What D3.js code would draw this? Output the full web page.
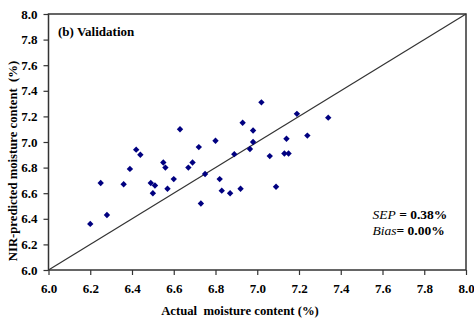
<!DOCTYPE html>
<html lang="en">
<head>
    <meta charset="UTF-8">
    <title>Validation</title>
    <script src="https://d3js.org/d3.v7.min.js"></script>
    <style>
        body { margin: 0; background: #fff; }
        svg text { font-family: 'Liberation Serif', 'Times New Roman', serif; fill: #000; }
        .tick text { font-size: 13px; font-weight: bold; }
        .axis-title { font-size: 12.7px; font-weight: bold; white-space: pre; }
    </style>
</head>
<body>
    <div id="chart"></div>
    <script>
        // Actual vs predicted moisture (%)
        const actual = [6.20, 6.25, 6.28, 6.36, 6.39, 6.42, 6.44, 6.49, 6.50, 6.51,
                        6.55, 6.56, 6.57, 6.60, 6.63, 6.67, 6.69, 6.72, 6.73, 6.75,
                        6.80, 6.82, 6.83, 6.87, 6.89, 6.92, 6.93, 6.965, 6.98, 6.98,
                        7.02, 7.06, 7.09, 7.13, 7.15, 7.14, 7.19, 7.24, 7.34];
        const predicted = [6.36, 6.68, 6.43, 6.67, 6.79, 6.94, 6.90, 6.68, 6.60, 6.66,
                           6.84, 6.80, 6.635, 6.71, 7.10, 6.80, 6.84, 6.96, 6.52, 6.75,
                           7.01, 6.71, 6.62, 6.60, 6.905, 6.635, 7.15, 6.945, 7.00, 7.09,
                           7.31, 6.89, 6.65, 6.91, 6.91, 7.025, 7.22, 7.05, 7.19];
        const ticks = [6.0, 6.2, 6.4, 6.6, 6.8, 7.0, 7.2, 7.4, 7.6, 7.8, 8.0];

        const W = 474, H = 324;
        const margin = { top: 14, right: 8, bottom: 54, left: 48.5 };
        const width = W - margin.left - margin.right;
        const height = H - margin.top - margin.bottom;

        const svg = d3.select("#chart").append("svg")
            .attr("width", W)
            .attr("height", H);

        const g = svg.append("g")
            .attr("transform", `translate(${margin.left},${margin.top})`);

        const x = d3.scaleLinear().domain([6, 8]).range([0, width]);
        const y = d3.scaleLinear().domain([6, 8]).range([height, 0]);

        // axes
        const xAxis = g.append("g")
            .attr("transform", `translate(0,${height})`)
            .call(d3.axisBottom(x).tickValues(ticks).tickFormat(d3.format(".1f")).tickSize(5).tickPadding(9));
        const yAxis = g.append("g")
            .call(d3.axisLeft(y).tickValues(ticks).tickFormat(d3.format(".1f")).tickSize(5).tickPadding(6));
        [xAxis, yAxis].forEach(a => {
            a.attr("font-family", null).attr("font-size", null);
            a.select(".domain").remove();
            a.selectAll(".tick line").attr("stroke", "#333").attr("stroke-width", 1.2);
        });

        // frame
        g.append("rect")
            .attr("width", width)
            .attr("height", height)
            .attr("fill", "none")
            .attr("stroke", "#333")
            .attr("stroke-width", 1.5);

        // 1:1 line
        g.append("line")
            .attr("x1", x(6)).attr("y1", y(6))
            .attr("x2", x(8)).attr("y2", y(8))
            .attr("stroke", "#333")
            .attr("stroke-width", 1.2);

        // points
        const pts = actual.map((a, i) => ({ a: a, p: predicted[i] }));
        g.selectAll(".pt").data(pts).enter()
            .append("path")
            .attr("class", "pt")
            .attr("d", d3.symbol(d3.symbolDiamond2, 26))
            .attr("transform", d => `translate(${x(d.a)},${y(d.p)})`)
            .attr("fill", "#000080");

        // panel label
        g.append("text")
            .attr("x", 9.5)
            .attr("y", 21.5)
            .style("font-size", "13px")
            .style("font-weight", "bold")
            .text("(b) Validation");

        // stats
        const s1 = g.append("text").attr("x", 324).attr("y", 205).style("font-size", "13.5px");
        s1.append("tspan").style("font-style", "italic").text("SEP");
        s1.append("tspan").style("font-weight", "bold").text(" = 0.38%");
        const s2 = g.append("text").attr("x", 324).attr("y", 221).style("font-size", "13.5px");
        s2.append("tspan").style("font-style", "italic").text("Bias");
        s2.append("tspan").style("font-weight", "bold").text("= 0.00%");

        // axis titles
        svg.append("text")
            .attr("class", "axis-title")
            .attr("x", 240)
            .attr("y", 315)
            .attr("text-anchor", "middle")
            .text("Actual  moisture content (%)");

        svg.append("text")
            .attr("class", "axis-title")
            .attr("transform", "translate(17,161) rotate(-90)")
            .attr("text-anchor", "middle")
            .text("NIR-predicted moisture content  (%)");
    </script>
</body>
</html>
